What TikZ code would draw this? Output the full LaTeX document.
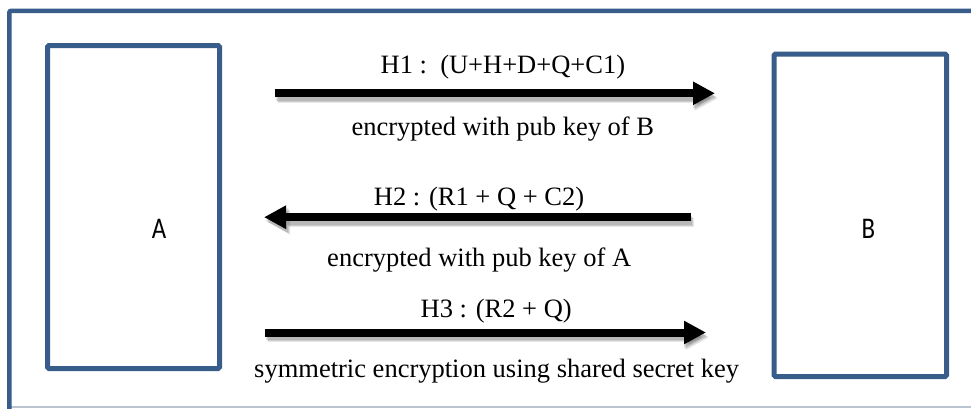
\documentclass[tikz,border=0pt]{standalone}
\usepackage{fontspec}
\usepackage{graphicx}
\setmainfont{Liberation Serif}
\newfontfamily\partyfont{Carlito}
\usetikzlibrary{arrows.meta,calc}

\definecolor{frameblue}{RGB}{56,93,138}
\definecolor{rimgray}{RGB}{185,196,208}

\tikzset{
  partybox/.style={draw=frameblue, line width=5pt, rounded corners=1.5pt,
    inner sep=0pt, outer sep=0pt, fill=white},
  partyname/.style={anchor=base, inner sep=0pt,
    font=\partyfont\fontsize{30}{34}\selectfont},
  msgtext/.style={anchor=base, inner sep=0pt,
    font=\fontsize{26.5}{31}\selectfont},
  msgarrow/.style={draw=black, line width=8pt,
    -{Triangle[length=22pt,width=22pt]}},
  msgshadow/.style={draw=black, opacity=0.10, line width=9pt,
    -{Triangle[length=23pt,width=23pt]}},
}

\begin{document}
\begin{tikzpicture}[x=1pt,y=-1pt]
  \useasboundingbox (0,0) rectangle (971,408);
  \fill[white] (0,0) rectangle (971,408);

  % outer frame: heavy top and left rule, faint bottom rule
  \draw[rimgray, line width=1.5pt] (9,407.2) -- (971,407.2);
  \draw[frameblue, line width=4.6pt, rounded corners=2pt]
    (9.3,412) -- (9.3,10.8) -- (975,10.8);

  % the two parties
  \node[partybox, minimum width=172pt, minimum height=323pt] (A) at (133.5,207) {};
  \node[partybox, minimum width=172.5pt, minimum height=322.5pt] (B) at (860.25,215.25) {};
  \node[partyname] (nameA) at (159,238.3) {\scalebox{0.83}[1]{A}};
  \node[partyname] (nameB) at (868.5,238.3) {\scalebox{0.83}[1]{B}};

  % message end points
  \coordinate (m1s) at (275,93.3);
  \coordinate (m1e) at (715,93.3);
  \coordinate (m2s) at (691,217.2);
  \coordinate (m2e) at (264,217.2);
  \coordinate (m3s) at (265,332.5);
  \coordinate (m3e) at (706,332.5);

  % soft shadows under the message arrows
  \foreach \dx/\dy in {1/3,2/4,3/5} {
    \draw[msgshadow] ($(m1s)+(\dx,\dy)$) -- ($(m1e)+(\dx,\dy)$);
    \draw[msgshadow] ($(m2s)+(\dx,\dy)$) -- ($(m2e)+(\dx,\dy)$);
    \draw[msgshadow] ($(m3s)+(\dx,\dy)$) -- ($(m3e)+(\dx,\dy)$);
  }

  % messages
  \draw[msgarrow] (m1s) -- (m1e);
  \draw[msgarrow] (m2s) -- (m2e);
  \draw[msgarrow] (m3s) -- (m3e);

  % message labels
  \node[msgtext] (t1) at (502.9,73.5) {H1 :\ \ (U+H+D+Q+C1)};
  \node[msgtext] (k1) at (502.8,135.5) {encrypted with pub key of B};
  \node[msgtext] (t2) at (479,205) {H2 : (R1 + Q + C2)};
  \node[msgtext] (k2) at (479.2,266) {encrypted with pub key of A};
  \node[msgtext] (t3) at (496.2,317.3) {H3 : (R2 + Q)};
  \node[msgtext] (k3) at (496.7,377.3) {symmetric encryption using shared secret key};
\end{tikzpicture}
\end{document}
